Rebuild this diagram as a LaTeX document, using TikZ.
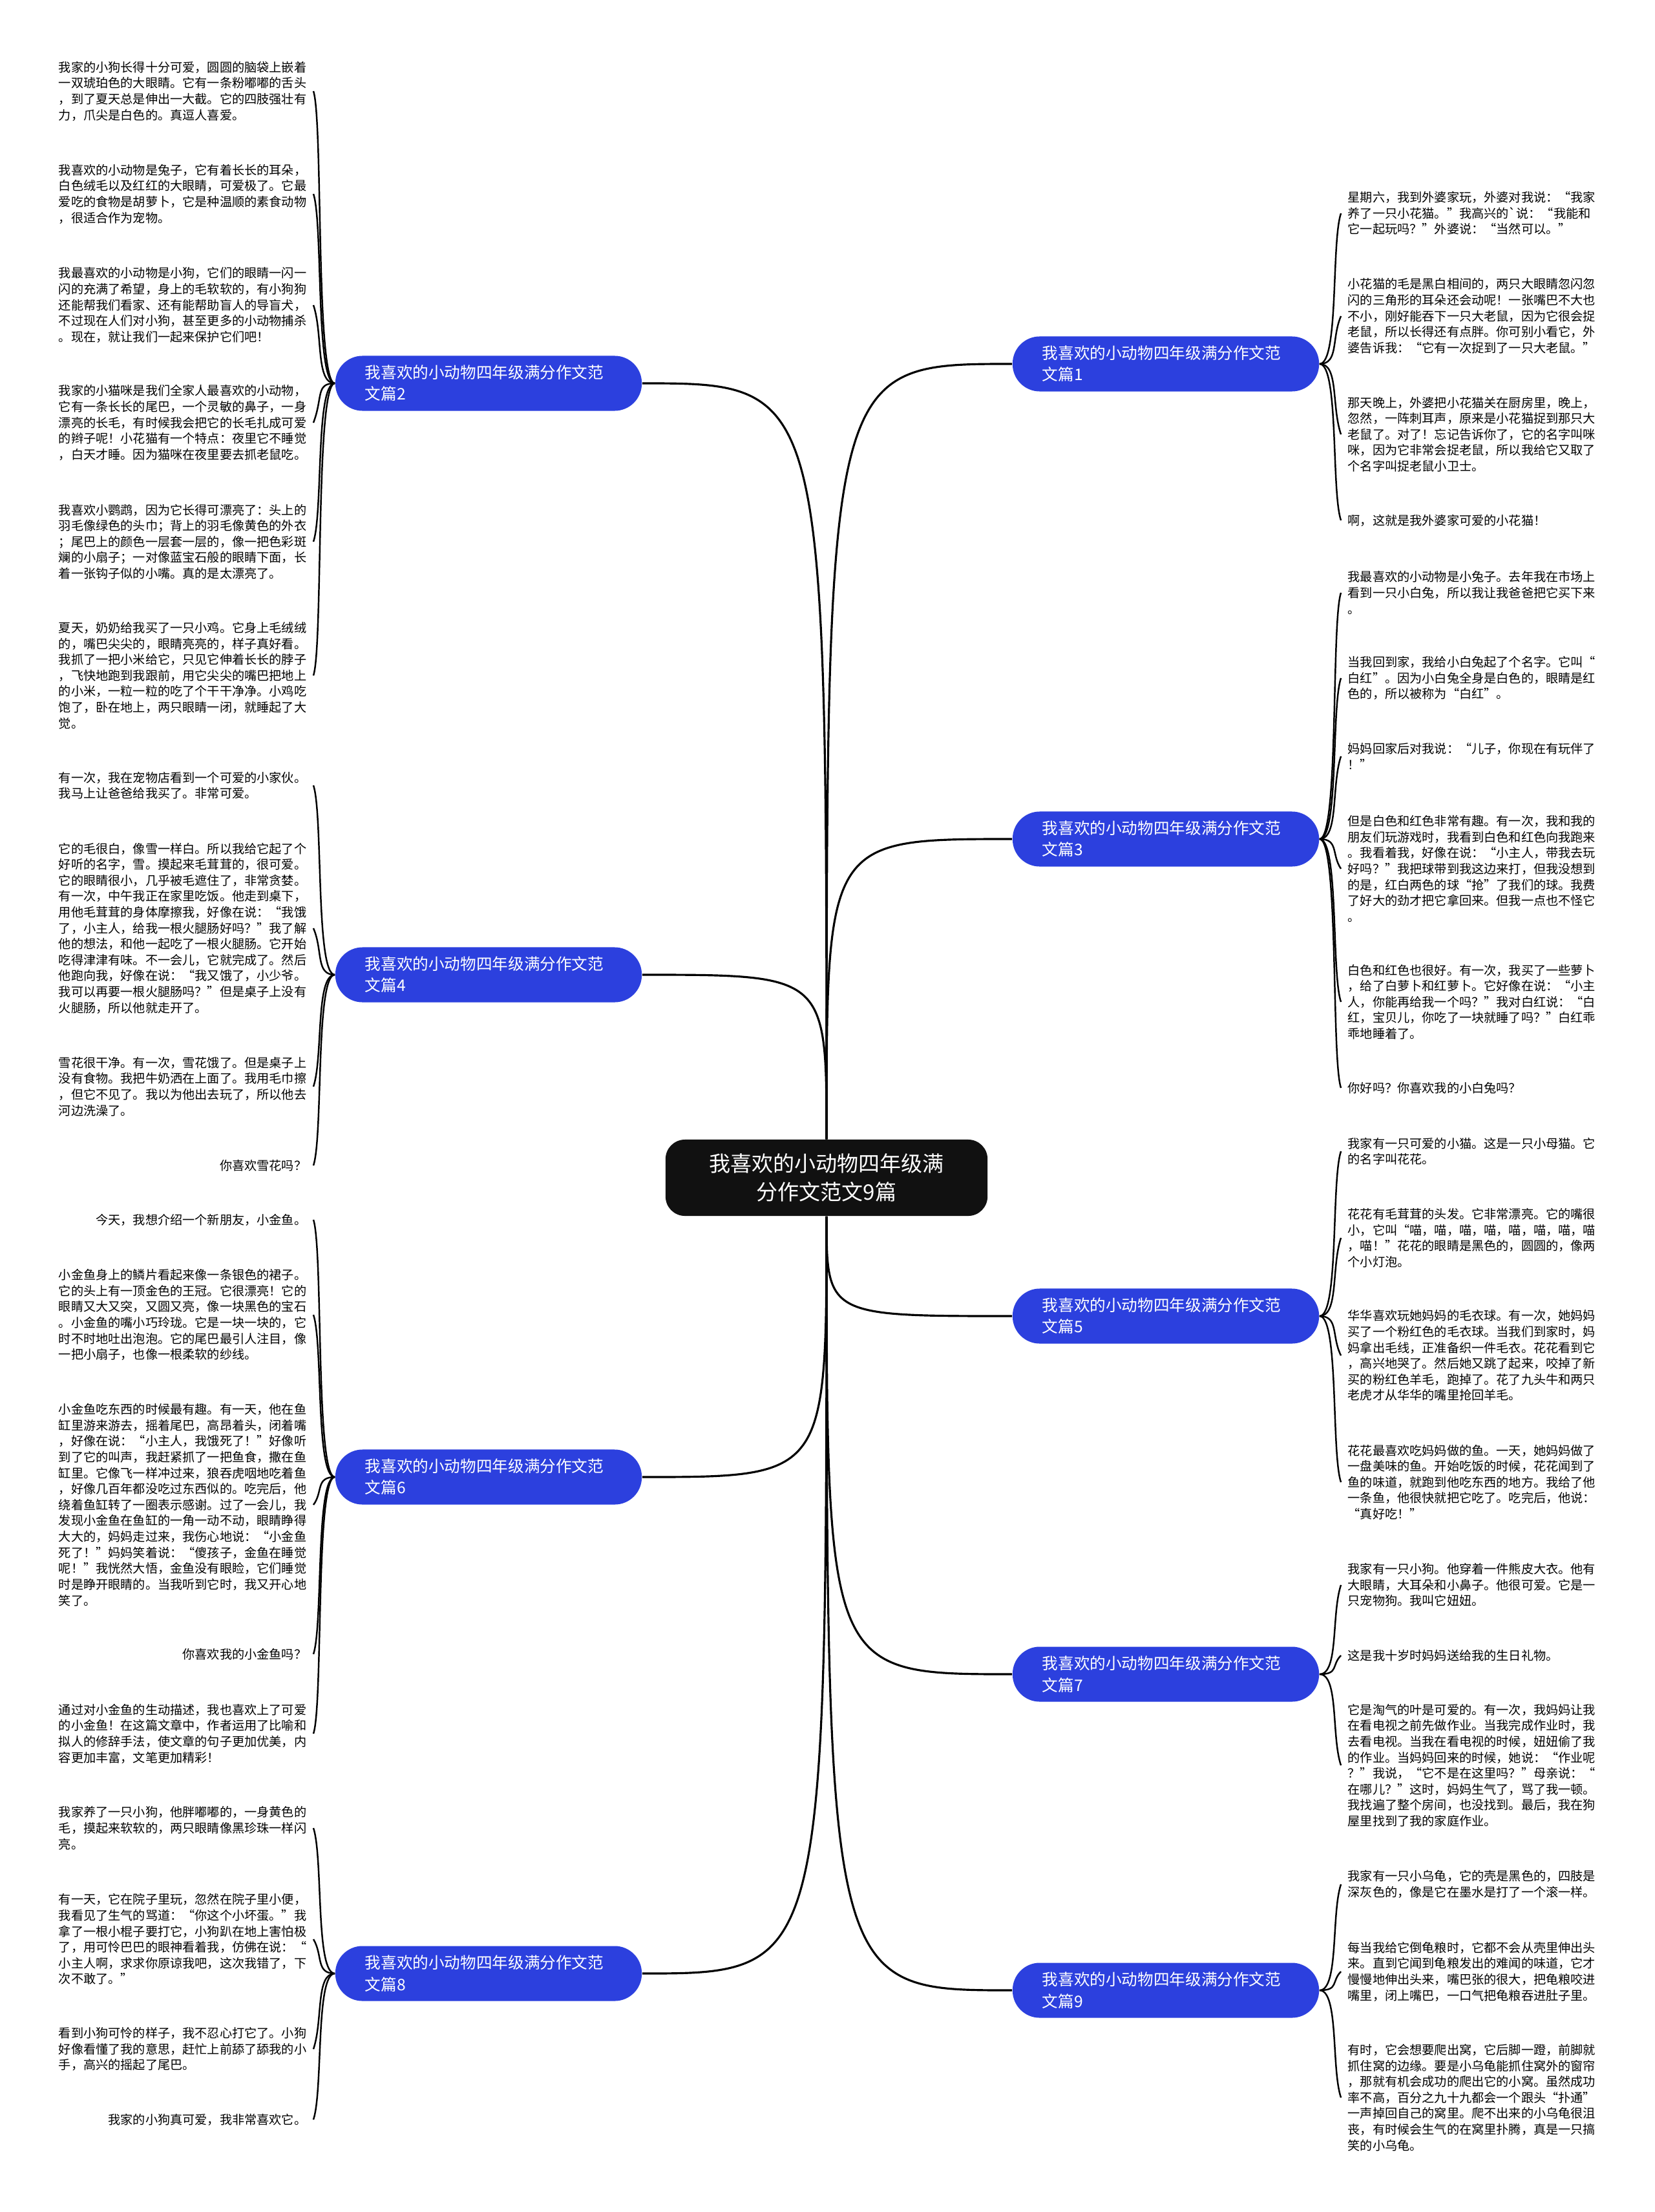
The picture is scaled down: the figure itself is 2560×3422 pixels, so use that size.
\documentclass[tikz,border=0pt]{standalone}
\usepackage{fontspec}
\newfontfamily\zhfont{Noto Sans CJK SC}
\usepackage{tikz}
\usetikzlibrary{backgrounds}
\definecolor{mapblue}{RGB}{44,64,222}
\definecolor{mapblack}{RGB}{17,17,17}
\tikzset{
  %% ---- boxes ----
  rootbox/.style = {rectangle, rounded corners=0.3cm, fill=mapblack,
                   minimum width=4.98cm, minimum height=1.18cm,
                   align=center, text=white,
                   font=\zhfont\fontsize{9.4pt}{12.5pt}\selectfont},
  essay/.style   = {rectangle, rounded corners=0.42cm, fill=mapblue,
                   text width=3.82cm, inner xsep=0.46cm, inner ysep=0pt,
                   minimum height=0.85cm, align=left, text=white,
                   font=\zhfont\fontsize{7pt}{9.4pt}\selectfont},
  leafl/.style   = {anchor=east, align=left, inner xsep=0.1cm, inner ysep=0pt,
                   font=\zhfont\fontsize{5.45pt}{7pt}\selectfont},
  leafr/.style   = {leafl, anchor=west},
  %% ---- lines ----
  trunk/.style   = {line width=0.9pt, black},
  twig/.style    = {line width=0.7pt, black},
  twigl/.style   = {to path={.. controls +(-30,0) and +(15,#1) .. (\tikztotarget)}},
  twigr/.style   = {to path={.. controls +(30,0) and +(-15,#1) .. (\tikztotarget)}},
}

\begin{document}
\begin{tikzpicture}[x=0.01cm, y=-0.01cm]
\useasboundingbox (0,0) rectangle (2560,3422);

%% ── centre ────────────────────────────────────────────────────────────────
\node[rootbox] (root) at (1279,1822) {我喜欢的小动物四年级满\\分作文范文9篇};

%% ── essays ────────────────────────────────────────────────────────────────
\node[essay] (b1) at (1804, 563)  {我喜欢的小动物四年级满分作文范\\文篇1};
\node[essay] (b2) at ( 756, 593)  {我喜欢的小动物四年级满分作文范\\文篇2};
\node[essay] (b3) at (1804,1298)  {我喜欢的小动物四年级满分作文范\\文篇3};
\node[essay] (b4) at ( 756,1508)  {我喜欢的小动物四年级满分作文范\\文篇4};
\node[essay] (b5) at (1804,2036)  {我喜欢的小动物四年级满分作文范\\文篇5};
\node[essay] (b6) at ( 756,2285)  {我喜欢的小动物四年级满分作文范\\文篇6};
\node[essay] (b7) at (1804,2590)  {我喜欢的小动物四年级满分作文范\\文篇7};
\node[essay] (b8) at ( 756,3053)  {我喜欢的小动物四年级满分作文范\\文篇8};
\node[essay] (b9) at (1804,3079)  {我喜欢的小动物四年级满分作文范\\文篇9};

%% ── essay 2 ───────────────────────────────────────────────────────────────
\node[leafl] (l2a) at (485, 141) {我家的小狗长得十分可爱，圆圆的脑袋上嵌着\\一双琥珀色的大眼睛。它有一条粉嘟嘟的舌头\\，到了夏天总是伸出一大截。它的四肢强壮有\\力，爪尖是白色的。真逗人喜爱。};
\node[leafl] (l2b) at (485, 300) {我喜欢的小动物是兔子，它有着长长的耳朵，\\白色绒毛以及红红的大眼睛，可爱极了。它最\\爱吃的食物是胡萝卜，它是种温顺的素食动物\\，很适合作为宠物。};
\node[leafl] (l2c) at (485, 472) {我最喜欢的小动物是小狗，它们的眼睛一闪一\\闪的充满了希望，身上的毛软软的，有小狗狗\\还能帮我们看家、还有能帮助盲人的导盲犬，\\不过现在人们对小狗，甚至更多的小动物捕杀\\。现在，就让我们一起来保护它们吧！};
\node[leafl] (l2d) at (485, 654) {我家的小猫咪是我们全家人最喜欢的小动物，\\它有一条长长的尾巴，一个灵敏的鼻子，一身\\漂亮的长毛，有时候我会把它的长毛扎成可爱\\的辫子呢！小花猫有一个特点：夜里它不睡觉\\，白天才睡。因为猫咪在夜里要去抓老鼠吃。};
\node[leafl] (l2e) at (485, 838) {我喜欢小鹦鹉，因为它长得可漂亮了：头上的\\羽毛像绿色的头巾；背上的羽毛像黄色的外衣\\；尾巴上的颜色一层套一层的，像一把色彩斑\\斓的小扇子；一对像蓝宝石般的眼睛下面，长\\着一张钩子似的小嘴。真的是太漂亮了。};
\node[leafl] (l2f) at (485,1045) {夏天，奶奶给我买了一只小鸡。它身上毛绒绒\\的，嘴巴尖尖的，眼睛亮亮的，样子真好看。\\我抓了一把小米给它，只见它伸着长长的脖子\\，飞快地跑到我跟前，用它尖尖的嘴巴把地上\\的小米，一粒一粒的吃了个干干净净。小鸡吃\\饱了，卧在地上，两只眼睛一闭，就睡起了大\\觉。};

%% ── essay 4 ───────────────────────────────────────────────────────────────
\node[leafl] (l4a) at (485,1215) {有一次，我在宠物店看到一个可爱的小家伙。\\我马上让爸爸给我买了。非常可爱。};
\node[leafl] (l4b) at (485,1436) {它的毛很白，像雪一样白。所以我给它起了个\\好听的名字，雪。摸起来毛茸茸的，很可爱。\\它的眼睛很小，几乎被毛遮住了，非常贪婪。\\有一次，中午我正在家里吃饭。他走到桌下，\\用他毛茸茸的身体摩擦我，好像在说：“我饿\\了，小主人，给我一根火腿肠好吗？”我了解\\他的想法，和他一起吃了一根火腿肠。它开始\\吃得津津有味。不一会儿，它就完成了。然后\\他跑向我，好像在说：“我又饿了，小少爷。\\我可以再要一根火腿肠吗？”但是桌子上没有\\火腿肠，所以他就走开了。};
\node[leafl] (l4c) at (485,1681) {雪花很干净。有一次，雪花饿了。但是桌子上\\没有食物。我把牛奶洒在上面了。我用毛巾擦\\，但它不见了。我以为他出去玩了，所以他去\\河边洗澡了。};
\node[leafl] (l4d) at (485,1803) {你喜欢雪花吗？};

%% ── essay 6 ───────────────────────────────────────────────────────────────
\node[leafl] (l6a) at (485,1887) {今天，我想介绍一个新朋友，小金鱼。};
\node[leafl] (l6b) at (485,2034) {小金鱼身上的鳞片看起来像一条银色的裙子。\\它的头上有一顶金色的王冠。它很漂亮！它的\\眼睛又大又突，又圆又亮，像一块黑色的宝石\\。小金鱼的嘴小巧玲珑。它是一块一块的，它\\时不时地吐出泡泡。它的尾巴最引人注目，像\\一把小扇子，也像一根柔软的纱线。};
\node[leafl] (l6c) at (485,2328) {小金鱼吃东西的时候最有趣。有一天，他在鱼\\缸里游来游去，摇着尾巴，高昂着头，闭着嘴\\，好像在说：“小主人，我饿死了！”好像听\\到了它的叫声，我赶紧抓了一把鱼食，撒在鱼\\缸里。它像飞一样冲过来，狼吞虎咽地吃着鱼\\，好像几百年都没吃过东西似的。吃完后，他\\绕着鱼缸转了一圈表示感谢。过了一会儿，我\\发现小金鱼在鱼缸的一角一动不动，眼睛睁得\\大大的，妈妈走过来，我伤心地说：“小金鱼\\死了！”妈妈笑着说：“傻孩子，金鱼在睡觉\\呢！”我恍然大悟，金鱼没有眼睑，它们睡觉\\时是睁开眼睛的。当我听到它时，我又开心地\\笑了。};
\node[leafl] (l6d) at (485,2559) {你喜欢我的小金鱼吗？};
\node[leafl] (l6e) at (485,2682) {通过对小金鱼的生动描述，我也喜欢上了可爱\\的小金鱼！在这篇文章中，作者运用了比喻和\\拟人的修辞手法，使文章的句子更加优美，内\\容更加丰富，文笔更加精彩！};

%% ── essay 8 ───────────────────────────────────────────────────────────────
\node[leafl] (l8a) at (485,2828) {我家养了一只小狗，他胖嘟嘟的，一身黄色的\\毛，摸起来软软的，两只眼睛像黑珍珠一样闪\\亮。};
\node[leafl] (l8b) at (485,3000) {有一天，它在院子里玩，忽然在院子里小便，\\我看见了生气的骂道：“你这个小坏蛋。”我\\拿了一根小棍子要打它，小狗趴在地上害怕极\\了，用可怜巴巴的眼神看着我，仿佛在说：“\\小主人啊，求求你原谅我吧，这次我错了，下\\次不敢了。”};
\node[leafl] (l8c) at (485,3170) {看到小狗可怜的样子，我不忍心打它了。小狗\\好像看懂了我的意思，赶忙上前舔了舔我的小\\手，高兴的摇起了尾巴。};
\node[leafl] (l8d) at (485,3279) {我家的小狗真可爱，我非常喜欢它。};

%% ── essay 1 ───────────────────────────────────────────────────────────────
\node[leafr] (r1a) at (2075, 330) {星期六，我到外婆家玩，外婆对我说：“我家\\养了一只小花猫。”我高兴的`说：“我能和\\它一起玩吗？”外婆说：“当然可以。”};
\node[leafr] (r1b) at (2075, 489) {小花猫的毛是黑白相间的，两只大眼睛忽闪忽\\闪的三角形的耳朵还会动呢！一张嘴巴不大也\\不小，刚好能吞下一只大老鼠，因为它很会捉\\老鼠，所以长得还有点胖。你可别小看它，外\\婆告诉我：“它有一次捉到了一只大老鼠。”};
\node[leafr] (r1c) at (2075, 672) {那天晚上，外婆把小花猫关在厨房里，晚上，\\忽然，一阵刺耳声，原来是小花猫捉到那只大\\老鼠了。对了！忘记告诉你了，它的名字叫咪\\咪，因为它非常会捉老鼠，所以我给它又取了\\个名字叫捉老鼠小卫士。};
\node[leafr] (r1d) at (2075, 805) {啊，这就是我外婆家可爱的小花猫！};

%% ── essay 3 ───────────────────────────────────────────────────────────────
\node[leafr] (r3a) at (2075, 917) {我最喜欢的小动物是小兔子。去年我在市场上\\看到一只小白兔，所以我让我爸爸把它买下来\\。};
\node[leafr] (r3b) at (2075,1049) {当我回到家，我给小白兔起了个名字。它叫“\\白红”。因为小白兔全身是白色的，眼睛是红\\色的，所以被称为“白红”。};
\node[leafr] (r3c) at (2075,1170) {妈妈回家后对我说：“儿子，你现在有玩伴了\\！”};
\node[leafr] (r3d) at (2075,1344) {但是白色和红色非常有趣。有一次，我和我的\\朋友们玩游戏时，我看到白色和红色向我跑来\\。我看着我，好像在说：“小主人，带我去玩\\好吗？”我把球带到我这边来打，但我没想到\\的是，红白两色的球“抢”了我们的球。我费\\了好大的劲才把它拿回来。但我一点也不怪它\\。};
\node[leafr] (r3e) at (2075,1550) {白色和红色也很好。有一次，我买了一些萝卜\\，给了白萝卜和红萝卜。它好像在说：“小主\\人，你能再给我一个吗？”我对白红说：“白\\红，宝贝儿，你吃了一块就睡了吗？”白红乖\\乖地睡着了。};
\node[leafr] (r3f) at (2075,1683) {你好吗？你喜欢我的小白兔吗？};

%% ── essay 5 ───────────────────────────────────────────────────────────────
\node[leafr] (r5a) at (2075,1781) {我家有一只可爱的小猫。这是一只小母猫。它\\的名字叫花花。};
\node[leafr] (r5b) at (2075,1915) {花花有毛茸茸的头发。它非常漂亮。它的嘴很\\小，它叫“喵，喵，喵，喵，喵，喵，喵，喵\\，喵！”花花的眼睛是黑色的，圆圆的，像两\\个小灯泡。};
\node[leafr] (r5c) at (2075,2097) {华华喜欢玩她妈妈的毛衣球。有一次，她妈妈\\买了一个粉红色的毛衣球。当我们到家时，妈\\妈拿出毛线，正准备织一件毛衣。花花看到它\\，高兴地哭了。然后她又跳了起来，咬掉了新\\买的粉红色羊毛，跑掉了。花了九头牛和两只\\老虎才从华华的嘴里抢回羊毛。};
\node[leafr] (r5d) at (2075,2293) {花花最喜欢吃妈妈做的鱼。一天，她妈妈做了\\一盘美味的鱼。开始吃饭的时候，花花闻到了\\鱼的味道，就跑到他吃东西的地方。我给了他\\一条鱼，他很快就把它吃了。吃完后，他说：\\“真好吃！”};

%% ── essay 7 ───────────────────────────────────────────────────────────────
\node[leafr] (r7a) at (2075,2452) {我家有一只小狗。他穿着一件熊皮大衣。他有\\大眼睛，大耳朵和小鼻子。他很可爱。它是一\\只宠物狗。我叫它妞妞。};
\node[leafr] (r7b) at (2075,2561) {这是我十岁时妈妈送给我的生日礼物。};
\node[leafr] (r7c) at (2075,2731) {它是淘气的叶是可爱的。有一次，我妈妈让我\\在看电视之前先做作业。当我完成作业时，我\\去看电视。当我在看电视的时候，妞妞偷了我\\的作业。当妈妈回来的时候，她说：“作业呢\\？”我说，“它不是在这里吗？”母亲说：“\\在哪儿？”这时，妈妈生气了，骂了我一顿。\\我找遍了整个房间，也没找到。最后，我在狗\\屋里找到了我的家庭作业。};

%% ── essay 9 ───────────────────────────────────────────────────────────────
\node[leafr] (r9a) at (2075,2915) {我家有一只小乌龟，它的壳是黑色的，四肢是\\深灰色的，像是它在墨水是打了一个滚一样。};
\node[leafr] (r9b) at (2075,3050) {每当我给它倒龟粮时，它都不会从壳里伸出头\\来。直到它闻到龟粮发出的难闻的味道，它才\\慢慢地伸出头来，嘴巴张的很大，把龟粮咬进\\嘴里，闭上嘴巴，一口气把龟粮吞进肚子里。};
\node[leafr] (r9c) at (2075,3245) {有时，它会想要爬出窝，它后脚一蹬，前脚就\\抓住窝的边缘。要是小乌龟能抓住窝外的窗帘\\，那就有机会成功的爬出它的小窝。虽然成功\\率不高，百分之九十九都会一个跟头“扑通”\\一声掉回自己的窝里。爬不出来的小乌龟很沮\\丧，有时候会生气的在窝里扑腾，真是一只搞\\笑的小乌龟。};

\begin{scope}[on background layer]
\fill[white] (0,0) rectangle (2560,3422);

%% ── centre to essays ──────────────────────────────────────────────────────
\draw[trunk] (root.north) .. controls (root.north |- b1.west) .. (b1.west);
\draw[trunk] (root.north) .. controls (root.north |- b2.east) .. (b2.east);
\draw[trunk] (root.north) .. controls (root.north |- b3.west) .. (b3.west);
\draw[trunk] (root.north) .. controls (root.north |- b4.east) .. (b4.east);
\draw[trunk] (root.south) .. controls (root.south |- b5.west) .. (b5.west);
\draw[trunk] (root.south) .. controls (root.south |- b6.east) .. (b6.east);
\draw[trunk] (root.south) .. controls (root.south |- b7.west) .. (b7.west);
\draw[trunk] (root.south) .. controls (root.south |- b8.east) .. (b8.east);
\draw[trunk] (root.south) .. controls (root.south |- b9.west) .. (b9.west);

%% ── essays to paragraphs, left ────────────────────────────────────────────
\draw[twig] (b2.west) to[twigl=45]  (l2a.east);
\draw[twig] (b2.west) to[twigl=45]  (l2b.east);
\draw[twig] (b2.west) to[twigl=45]  (l2c.east);
\draw[twig] (b2.west) to[twigl=-40] (l2d.east);
\draw[twig] (b2.west) to[twigl=-45] (l2e.east);
\draw[twig] (b2.west) to[twigl=-45] (l2f.east);

\draw[twig] (b4.west) to[twigl=45]  (l4a.east);
\draw[twig] (b4.west) to[twigl=35]  (l4b.east);
\draw[twig] (b4.west) to[twigl=-45] (l4c.east);
\draw[twig] (b4.west) to[twigl=-45] (l4d.east);

\draw[twig] (b6.west) to[twigl=45]  (l6a.east);
\draw[twig] (b6.west) to[twigl=45]  (l6b.east);
\draw[twig] (b6.west) to[twigl=-20] (l6c.east);
\draw[twig] (b6.west) to[twigl=-45] (l6d.east);
\draw[twig] (b6.west) to[twigl=-45] (l6e.east);

\draw[twig] (b8.west) to[twigl=45]  (l8a.east);
\draw[twig] (b8.west) to[twigl=25]  (l8b.east);
\draw[twig] (b8.west) to[twigl=-45] (l8c.east);
\draw[twig] (b8.west) to[twigl=-45] (l8d.east);

%% ── essays to paragraphs, right ───────────────────────────────────────────
\draw[twig] (b1.east) to[twigr=45]  (r1a.west);
\draw[twig] (b1.east) to[twigr=35]  (r1b.west);
\draw[twig] (b1.east) to[twigr=-45] (r1c.west);
\draw[twig] (b1.east) to[twigr=-45] (r1d.west);

\draw[twig] (b3.east) to[twigr=45]  (r3a.west);
\draw[twig] (b3.east) to[twigr=45]  (r3b.west);
\draw[twig] (b3.east) to[twigr=45]  (r3c.west);
\draw[twig] (b3.east) to[twigr=-22] (r3d.west);
\draw[twig] (b3.east) to[twigr=-45] (r3e.west);
\draw[twig] (b3.east) to[twigr=-45] (r3f.west);

\draw[twig] (b5.east) to[twigr=45]  (r5a.west);
\draw[twig] (b5.east) to[twigr=45]  (r5b.west);
\draw[twig] (b5.east) to[twigr=-30] (r5c.west);
\draw[twig] (b5.east) to[twigr=-45] (r5d.west);

\draw[twig] (b7.east) to[twigr=45]  (r7a.west);
\draw[twig] (b7.east) to[twigr=15]  (r7b.west);
\draw[twig] (b7.east) to[twigr=-45] (r7c.west);

\draw[twig] (b9.east) to[twigr=45]  (r9a.west);
\draw[twig] (b9.east) to[twigr=15]  (r9b.west);
\draw[twig] (b9.east) to[twigr=-45] (r9c.west);
\end{scope}

\end{tikzpicture}
\end{document}
